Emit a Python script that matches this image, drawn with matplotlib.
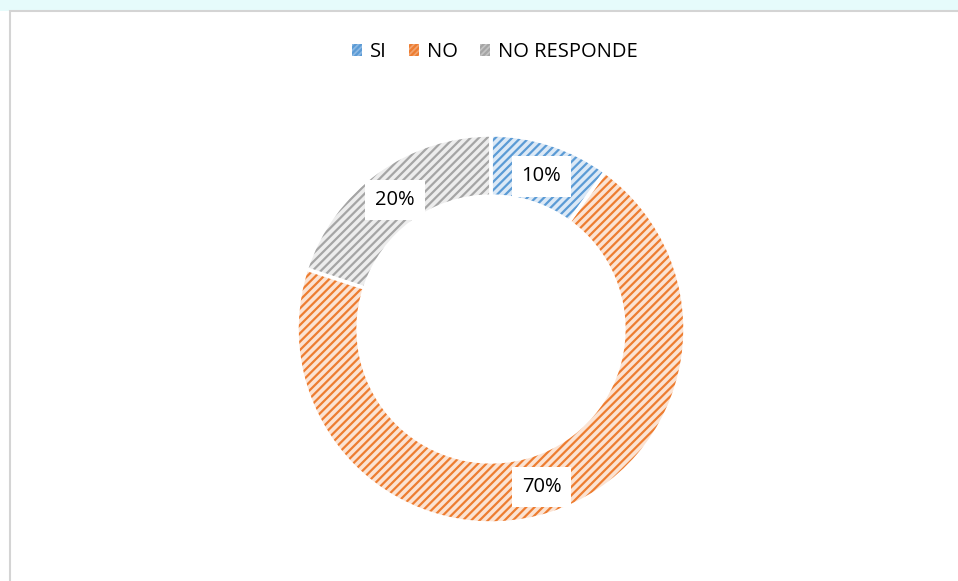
import numpy as np
import matplotlib
matplotlib.use("Agg")
import matplotlib.pyplot as plt
from matplotlib.patches import Patch, Rectangle

plt.rcParams['font.family'] = ['Open Sans', 'DejaVu Sans']
plt.rcParams['hatch.linewidth'] = 1.6

# data
categories = ["SI", "NO", "NO RESPONDE"]
values = [10, 70, 20]
labels = ["10%", "70%", "20%"]

line_colors = ["#5B9BD5", "#ED7D31", "#A5A5A5"]
fill_colors = ["#DCE9F6", "#FBE3D3", "#EDEDED"]
key_colors = ["#8DB9E4", "#F2A470", "#C3C3C3"]

W, H = 958, 581
fig = plt.figure(figsize=(W / 100, H / 100), dpi=100)
fig.patch.set_facecolor("white")

# background strip and chart frame
bg = fig.add_axes([0, 0, 1, 1], zorder=-5)
bg.set_xlim(0, W)
bg.set_ylim(H, 0)
bg.axis("off")
bg.add_patch(Rectangle((0, 0), W, 11, facecolor="#E6FBFB", edgecolor="none"))
bg.add_patch(Rectangle((10, 11), W, H, facecolor="white", edgecolor="#D4D4D4", linewidth=1.5))

# donut axes: centre (491, 329) px, radius 194 px
cx, cy, r = 491, 329, 194
ax = fig.add_axes([(cx - r) / W, (H - cy - r) / H, 2 * r / W, 2 * r / H])
ax.set_aspect("equal")
ring = 0.315

# hatched fill
wedges, _ = ax.pie(values, startangle=90, counterclock=False, colors=fill_colors,
                   wedgeprops=dict(width=ring, linewidth=0))
for w, c in zip(wedges, line_colors):
    w.set_hatch("////")
    w.set_edgecolor(c)
    w.set_linewidth(0)

# white borders on top
borders, _ = ax.pie(values, startangle=90, counterclock=False,
                    wedgeprops=dict(width=ring, edgecolor="white", linewidth=2.5))
for b in borders:
    b.set_facecolor("none")

# labels at ring middle
start = 90.0
total = float(sum(values))
for v, lab in zip(values, labels):
    mid = np.deg2rad(start - v / total * 360 / 2)
    start -= v / total * 360
    rr = 1 - ring / 2
    ax.text(rr * np.cos(mid), rr * np.sin(mid) - 0.015, lab, ha="center", va="center",
            fontsize=14.5, color="#000000",
            bbox=dict(boxstyle="square,pad=0.5", facecolor="white", edgecolor="none"))

ax.set_xlim(-1, 1)
ax.set_ylim(-1, 1)
ax.axis("off")

handles = [Patch(facecolor=k, edgecolor=c, hatch="//////", linewidth=0)
           for k, c in zip(key_colors, line_colors)]
fig.legend(handles, categories, loc="center", bbox_to_anchor=(495 / W, 1 - 52 / H),
           ncol=3, frameon=False, fontsize=14.5, handlelength=0.5, handleheight=0.5,
           handletextpad=0.4, columnspacing=1.1)

fig.savefig("out.png", dpi=100)
